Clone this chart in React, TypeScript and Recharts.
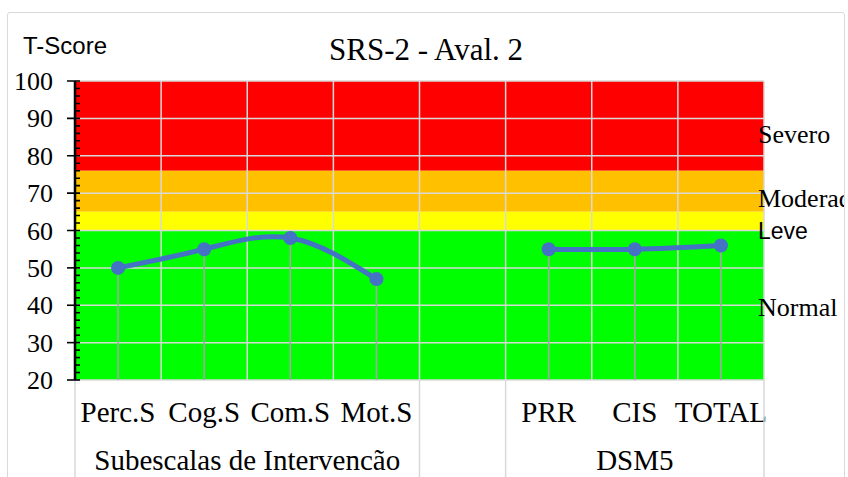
import React from 'react';
import { ComposedChart, Line, XAxis, YAxis, ReferenceArea, ReferenceLine } from 'recharts';

// ---- data ----
const categories = ['Perc.S', 'Cog.S', 'Com.S', 'Mot.S', '', 'PRR', 'CIS', 'TOTAL'];
const scores: (number | null)[] = [50, 55, 58, 47, null, 55, 55, 56];

const yTicksMajor = [20, 30, 40, 50, 60, 70, 80, 90, 100];
const yTicksAll = [
  20, 22, 24, 26, 28, 30, 32, 34, 36, 38, 40, 42, 44, 46, 48, 50, 52, 54, 56, 58, 60,
  62, 64, 66, 68, 70, 72, 74, 76, 78, 80, 82, 84, 86, 88, 90, 92, 94, 96, 98, 100,
];

const zoneNames = ['Severo', 'Moderado', 'Leve', 'Normal'];
const zoneFrom = [76, 65, 60, 20];
const zoneTo = [100, 76, 65, 60];
const zoneColors = ['#FF0000', '#FFC000', '#FFFF00', '#00FF00'];
const zoneLabelAt = [85.7, 68.6, 59.9, 39.4];
const zoneLabelSans = [false, false, true, false];

const groupNames = ['Subescalas de Intervencão', 'DSM5'];
const groupCenters = [2, 6.5];
const groupBounds = [0, 4, 5, 8];
const cellBounds = [0, 1, 2, 3, 4, 5, 6, 7, 8];

const title = 'SRS-2 - Aval. 2';
const yTitle = 'T-Score';

const data = categories.map((c, i) => ({ cat: c, score: scores[i] }));

// ---- styles ----
const SERIF = "'Liberation Serif', 'Times New Roman', serif";
const SANS = "'Liberation Sans', Arial, sans-serif";
const GRID = '#d9d9d9';
const CAT_H = 60;
const GRP_H = 37;

const CatTick = (props: any) => {
  const { x, y, payload } = props;
  return (
    <text x={x} y={y + 42} textAnchor="middle" fontFamily={SERIF} style={{ fontFamily: SERIF }} fontSize={29} fill="#000">
      {payload.value}
    </text>
  );
};

const GroupTick = (props: any) => {
  const { x, y, payload } = props;
  const v = payload.value;
  const gi = groupCenters.indexOf(v);
  if (gi >= 0) {
    return (
      <text x={x} y={y + 30} textAnchor="middle" fontFamily={SERIF} style={{ fontFamily: SERIF }} fontSize={29} fill="#000">
        {groupNames[gi]}
      </text>
    );
  }
  if (groupBounds.indexOf(v) < 0) return null;
  return <line x1={x} x2={x} y1={y - CAT_H} y2={y + GRP_H} stroke={GRID} strokeWidth={1.5} />;
};

const YTick = (props: any) => {
  const { x, y, payload } = props;
  const v = payload.value;
  const major = yTicksMajor.includes(v);
  return (
    <g>
      <line x1={major ? x - 8 : x} x2={x + 5} y1={y} y2={y} stroke="#000" strokeWidth={1.6} />
      {major && (
        <text
          x={x - 22}
          y={y}
          dy={9}
          textAnchor="end"
          fontFamily={SERIF}
          style={{ fontFamily: SERIF }}
          fontSize={26}
          fill="#000"
        >
          {v}
        </text>
      )}
    </g>
  );
};

const zoneLabel = (i: number) => (props: any) => {
  const vb = props.viewBox || {};
  const sans = zoneLabelSans[i];
  const fam = sans ? SANS : SERIF;
  return (
    <text
      x={(vb.x || 0) + (vb.width || 0) - 6}
      y={vb.y || 0}
      dy={sans ? 8 : 9}
      textAnchor="start"
      fontFamily={fam}
      style={{ fontFamily: fam }}
      fontSize={sans ? 23 : 26}
      fill="#000"
    >
      {zoneNames[i]}
    </text>
  );
};

export default function App() {
  return (
    <div style={{ position: 'absolute', left: 0, top: 0, width: 848, height: 477, overflow: 'hidden', background: '#fff' }}>
      <div
        style={{
          position: 'absolute',
          left: 7,
          top: 12,
          width: 838,
          height: 520,
          border: '1px solid #d9d9d9',
          borderRadius: 3,
          boxSizing: 'border-box',
          overflow: 'hidden',
          background: '#fff',
        }}
      >
        <div style={{ position: 'absolute', left: -8, top: -13, width: 848, height: 477 }}>
          <ComposedChart width={848} height={477} data={data} margin={{ top: 81, right: 84, bottom: 0, left: 0 }}>
            <XAxis
              xAxisId="cat"
              dataKey="cat"
              type="category"
              scale="band"
              height={CAT_H}
              axisLine={false}
              tickLine={false}
              tickSize={0}
              tickMargin={0}
              interval={0}
              tick={<CatTick />}
            />
            <XAxis
              xAxisId="grp"
              dataKey="cellPos"
              type="number"
              domain={[0, 8]}
              allowDataOverflow
              ticks={[0, 2, 4, 5, 6.5, 8]}
              height={GRP_H}
              axisLine={false}
              tickLine={false}
              tickSize={0}
              tickMargin={0}
              interval={0}
              allowDecimals
              tick={<GroupTick />}
            />
            <YAxis
              yAxisId="left"
              type="number"
              domain={[20, 100]}
              allowDataOverflow
              ticks={yTicksAll}
              interval={0}
              width={75}
              axisLine={{ stroke: '#000', strokeWidth: 2.5 }}
              tickLine={false}
              tickSize={0}
              tickMargin={0}
              tick={<YTick />}
            />
            {zoneNames.map((z, i) => (
              <ReferenceArea
                key={z}
                xAxisId="grp"
                yAxisId="left"
                x1={0}
                x2={8}
                y1={zoneFrom[i]}
                y2={zoneTo[i]}
                fill={zoneColors[i]}
                fillOpacity={1}
                stroke="none"
              />
            ))}
            {yTicksMajor.map((v) => (
              <ReferenceLine key={'h' + v} xAxisId="grp" yAxisId="left" y={v} stroke={GRID} strokeWidth={1.5} />
            ))}
            {cellBounds.map((b) => (
              <ReferenceLine key={'v' + b} xAxisId="grp" yAxisId="left" x={b} stroke={GRID} strokeWidth={1.5} />
            ))}
            {data
              .filter((d) => d.score !== null)
              .map((d) => (
                <ReferenceLine
                  key={'d' + d.cat}
                  xAxisId="cat"
                  yAxisId="left"
                  segment={[
                    { x: d.cat, y: d.score as number },
                    { x: d.cat, y: 20 },
                  ]}
                  stroke="#a6a6a6"
                  strokeWidth={1.6}
                />
              ))}
            <Line
              xAxisId="cat"
              yAxisId="left"
              dataKey="score"
              type="natural"
              stroke="#4472C4"
              strokeWidth={5}
              dot={{ r: 7, fill: '#4472C4', stroke: '#4472C4', strokeWidth: 0 }}
              activeDot={false}
              connectNulls={false}
              isAnimationActive={false}
            />
            {zoneNames.map((z, i) => (
              <ReferenceLine
                key={'zl' + z}
                xAxisId="grp"
                yAxisId="left"
                y={zoneLabelAt[i]}
                stroke="none"
                ifOverflow="visible"
                label={zoneLabel(i)}
              />
            ))}
          </ComposedChart>
          <svg
            width={848}
            height={477}
            style={{ position: 'absolute', left: 0, top: 0, pointerEvents: 'none' }}
          >
            <text x={426} y={60} textAnchor="middle" fontFamily={SERIF} style={{ fontFamily: SERIF }} fontSize={31} fill="#000">
              {title}
            </text>
            <text x={23} y={54} textAnchor="start" fontFamily={SANS} style={{ fontFamily: SANS }} fontSize={24} fill="#000">
              {yTitle}
            </text>
          </svg>
        </div>
      </div>
    </div>
  );
}
